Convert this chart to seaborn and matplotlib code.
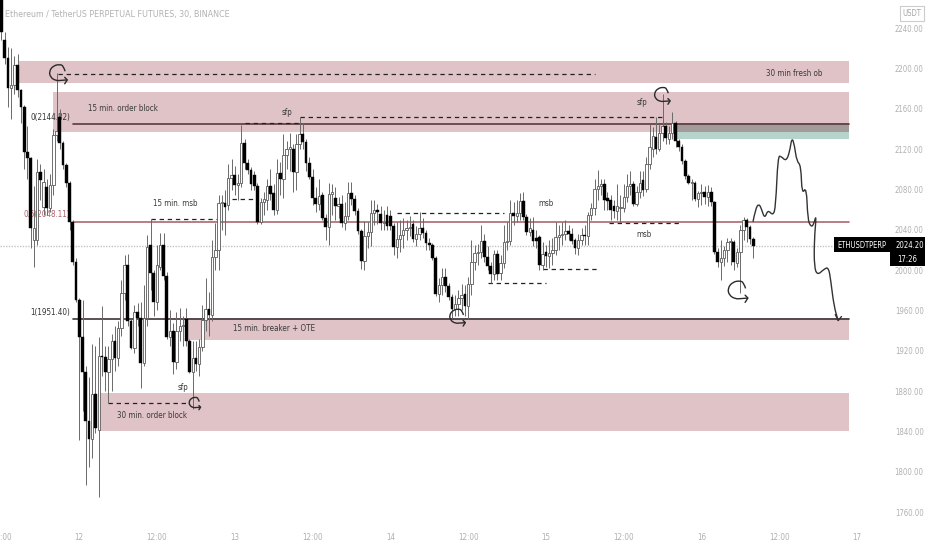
# Ethereum 30 min chart with hand drawn zones and projection
import numpy as np
import pandas as pd
import matplotlib
matplotlib.use("Agg")
import matplotlib.pyplot as plt
from matplotlib.patches import Rectangle, PathPatch
from matplotlib.path import Path
import seaborn as sns

# candles, one per 30 minutes
opens = [
    2273,2228,2210,2181,2184,2204,2179,2162,2117,2111,
    2030,2030,2097,2063,2082,2062,2084,2134,2152,2126,
    2104,2086,2048,2008,1970,1934,1899,1850,1833,1877,
    1841,1915,1914,1899,1912,1930,1913,1943,1977,2005,
    1950,1923,1958,1953,1908,1953,2025,1997,1968,2003,
    2025,1994,1934,1940,1909,1940,1945,1952,1930,1899,
    1913,1907,1924,1951,1961,1956,2013,2020,2067,2067,
    2065,2091,2094,2084,2086,2126,2106,2099,2094,2083,
    2048,2068,2070,2083,2077,2060,2096,2090,2114,2120,
    2120,2097,2125,2135,2127,2106,2092,2072,2066,2075,
    2052,2043,2076,2072,2064,2066,2047,2054,2077,2071,
    2059,2039,2009,2034,2038,2057,2060,2056,2047,2055,
    2054,2044,2023,2031,2035,2040,2042,2046,2031,2036,
    2042,2037,2027,2025,2012,1976,1985,1993,1984,1973,
    1961,1966,1972,1976,1964,1986,2008,2017,2018,2029,
    2013,2004,1996,2016,1997,2007,2028,2029,2057,2054,
    2057,2069,2053,2038,2040,2032,2033,2005,2018,2014,
    2017,2020,2033,2035,2036,2039,2036,2030,2022,2030,
    2035,2034,2055,2062,2081,2083,2085,2072,2070,2064,
    2059,2062,2062,2073,2083,2085,2066,2078,2089,2081,
    2105,2120,2132,2120,2136,2143,2130,2136,2146,2128,
    2122,2108,2093,2086,2086,2071,2077,2078,2073,2078,
    2068,2018,2008,2012,2020,2028,2028,2007,2018,2040,
    2050,2043,2031]
closes = [
    2236,2210,2181,2184,2204,2179,2162,2117,2111,2042,
    2042,2097,2089,2087,2062,2084,2134,2138,2126,2104,
    2086,2048,2008,1970,1934,1899,1850,1833,1877,1843,
    1915,1914,1899,1912,1930,1913,1943,1977,2005,1950,
    1923,1958,1953,1908,1953,2023,1997,1968,2005,2025,
    1994,1934,1940,1909,1940,1945,1946,1930,1899,1913,
    1907,1924,1951,1961,1956,2013,2020,2067,2068,2063,
    2091,2094,2084,2086,2126,2106,2099,2085,2083,2048,
    2068,2071,2083,2076,2060,2096,2090,2114,2120,2122,
    2097,2125,2135,2127,2106,2092,2072,2066,2074,2052,
    2043,2076,2078,2064,2066,2047,2054,2077,2071,2059,
    2039,2009,2034,2038,2057,2060,2058,2047,2048,2044,
    2044,2023,2031,2035,2040,2042,2043,2031,2036,2042,
    2037,2027,2025,2012,1976,1985,1993,1984,1973,1961,
    1966,1972,1975,1964,1986,2008,2017,2018,2029,2013,
    2004,1996,2016,1996,2007,2028,2029,2057,2054,2057,
    2069,2053,2038,2042,2029,2029,2005,2016,2014,2017,
    2020,2033,2035,2036,2039,2036,2029,2022,2030,2035,
    2034,2055,2062,2081,2083,2085,2070,2069,2060,2059,
    2064,2063,2073,2083,2085,2066,2078,2086,2080,2105,
    2122,2133,2120,2136,2143,2131,2136,2146,2128,2122,
    2108,2093,2086,2087,2071,2077,2078,2073,2078,2068,
    2018,2008,2012,2020,2028,2029,2008,2018,2040,2050,
    2043,2031,2024.2]
highs = [
    2290,2236,2221,2220,2212,2214,2180,2164,2143,2112,
    2083,2110,2105,2100,2090,2095,2140,2196,2160,2128,
    2106,2088,2050,2012,1972,1970,1905,1894,1927,1925,
    1934,1964,1925,1925,1937,1945,1950,1990,2015,2016,
    1952,1965,1967,1968,1985,2035,2051,2000,2025,2037,
    2037,1998,1960,1948,1958,1962,1955,1962,1932,1930,
    1930,1932,1965,1992,1978,2030,2047,2075,2075,2080,
    2105,2110,2103,2095,2144,2130,2110,2102,2098,2086,
    2072,2078,2090,2100,2085,2110,2107,2135,2128,2136,
    2125,2135,2152,2146,2130,2112,2100,2082,2090,2078,
    2056,2086,2085,2082,2073,2075,2068,2087,2087,2075,
    2062,2041,2049,2048,2070,2070,2066,2064,2060,2064,
    2060,2047,2048,2050,2052,2050,2054,2050,2044,2058,
    2052,2040,2032,2027,2014,1992,2002,2002,1987,1976,
    1975,1980,1986,1985,1993,2030,2025,2026,2045,2036,
    2024,2008,2020,2020,2015,2045,2048,2070,2068,2070,
    2077,2078,2056,2052,2053,2040,2035,2028,2025,2030,
    2032,2048,2045,2048,2050,2045,2042,2032,2036,2042,
    2045,2058,2067,2090,2099,2090,2090,2078,2075,2070,
    2085,2075,2085,2095,2098,2088,2083,2098,2098,2112,
    2145,2142,2152,2145,2175,2147,2143,2157,2148,2130,
    2125,2110,2095,2090,2088,2079,2085,2083,2084,2082,
    2069,2022,2030,2024,2032,2032,2030,2022,2045,2053,
    2052,2045,2033]
lows = [
    2228,2205,2162,2150,2175,2172,2146,2100,2090,2022,
    2003,2025,2070,2055,2055,2058,2075,2128,2120,2100,
    2082,2040,2005,1968,1832,1860,1787,1805,1814,1838,
    1775,1895,1880,1868,1880,1900,1905,1935,1970,1945,
    1922,1918,1945,1883,1905,1945,1980,1955,1960,2000,
    1990,1932,1925,1897,1902,1930,1925,1925,1898,1862,
    1900,1895,1920,1940,1935,1950,2000,2000,2040,2035,
    2060,2080,2075,2070,2082,2100,2095,2080,2080,2046,
    2046,2055,2060,2070,2055,2056,2075,2072,2100,2098,
    2078,2080,2120,2120,2098,2090,2065,2058,2060,2050,
    2030,2025,2055,2050,2052,2043,2040,2050,2065,2055,
    2036,2001,2000,2022,2024,2045,2046,2040,2040,2040,
    2040,2015,2012,2018,2022,2030,2034,2028,2024,2030,
    2032,2020,2020,2010,1974,1968,1975,1978,1970,1953,
    1955,1955,1960,1955,1952,1975,2000,2005,2012,2008,
    2000,1987,1990,1990,1990,2002,2020,2025,2045,2048,
    2050,2050,2035,2034,2024,2022,2000,2000,2003,2002,
    2005,2015,2020,2025,2030,2030,2026,2016,2015,2025,
    2025,2025,2050,2055,2070,2075,2060,2060,2050,2052,
    2050,2048,2058,2068,2075,2064,2064,2072,2074,2078,
    2100,2112,2115,2118,2128,2125,2125,2130,2122,2118,
    2105,2090,2085,2070,2069,2063,2065,2066,2064,2064,
    2016,2003,1990,2004,2008,2005,2000,2003,1977,2030,
    2028,2026,2012]

# zones: first candle, top price, bottom price
zone_start = [5.5, 16, 57, 30]
zone_top = [2207.5, 2177, 1953, 1878]
zone_bottom = [2185.5, 2137, 1931, 1840]

# fib levels
fib_prices = [2144.82, 2048.11, 1951.40]
fib_labels = ["0(2144.82)", "0.5(2048.11)", "1(1951.40)"]
fib_colors = ["#5b3a3e", "#a9686f", "#3d3335"]
fib_text_colors = ["#333333", "#b3606b", "#333333"]
last_price = 2024.20

# dashed levels: price, first candle, last candle
dash_price = [2195, 2146, 2152, 2051, 2071, 1868, 2057, 2001, 1987, 2047]
dash_from = [17.3, 75, 92, 46.2, 71, 33, 122, 167, 150, 187.6]
dash_to = [183, 92, 204, 67, 79, 58, 155, 184, 168, 209.6]

# hand drawn projection
path_x = [231.9,232.7,233.7,234.5,235.5,236.5,238.1,238.9,239.6,240.6,242.1,243.2,243.9,244.7,245.4,
          246.7,247.0,248.4,248.8,249.8,250.6,251.5,250.8,250.8,251.8,253.8,255.2,255.9,256.9,258.2]
path_p = [2048,2061,2066,2061,2051,2060,2054,2063,2113,2113,2108,2117,2132,2124,2108,
          2104,2075,2083,2050,2043,2045,2056,2030,2003,1995,2001,2003,1990,1964,1950]

# hand drawn loops: candle, price, radius in pixels
loop_x = [17.3, 59.5, 203.7, 140.5, 227]
loop_p = [2195.6, 1868.5, 2174, 1954, 1980]
loop_r = [8.5, 5.5, 7.5, 7.5, 9.5]
loop_ux = [0.9,0.7,0.3,-0.5,-1,-0.85,-0.2,0.5,1.15]
loop_uy = [0.2,0.8,1,0.85,0.2,-0.5,-0.9,-0.85,-0.8]
head_ux = [0.85,1.15,0.85]
head_uy = [-0.5,-0.8,-1.25]

# notes: text, candle, price
note_text = ["15 min. order block", "30 min fresh ob", "sfp", "sfp", "15 min. msb", "msb", "msb",
             "15 min. breaker + OTE", "sfp", "30 min. order block"]
note_x = [26.8, 236, 88, 197.7, 46.6, 168, 198.3, 71.4, 56, 35.6]
note_p = [2160, 2195, 2156, 2166, 2066, 2066, 2035, 1942, 1884, 1856]

x_tick_pos = [0, 24, 48, 72, 96, 120, 144, 168, 192, 216, 240, 264]
x_tick_labels = ["12:00", "12", "12:00", "13", "12:00", "14", "12:00", "15", "12:00", "16", "12:00", "17"]
y_ticks = [2240, 2200, 2160, 2120, 2080, 2040, 2000, 1960, 1920, 1880, 1840, 1800, 1760]

sns.set_theme(style="white")
plt.rcParams["font.family"] = ["DejaVu Sans"]
plt.rcParams["font.stretch"] = "condensed"


def smooth(ax, xs, ys, **kw):
    # quadratic curve through the midpoints of the drawn points
    verts = [(xs[0], ys[0])]
    codes = [Path.MOVETO]
    for k in range(1, len(xs) - 1):
        verts += [(xs[k], ys[k]), ((xs[k] + xs[k + 1]) / 2, (ys[k] + ys[k + 1]) / 2)]
        codes += [Path.CURVE3, Path.CURVE3]
    verts.append((xs[-1], ys[-1]))
    codes.append(Path.LINETO)
    ax.add_patch(PathPatch(Path(verts, codes), fill=False, **kw))


df = pd.DataFrame({"open": opens, "high": highs, "low": lows, "close": closes})
df["i"] = df.index
up = df[df.close >= df.open]
down = df[df.close < df.open]

fig = plt.figure(figsize=(9.32, 5.5), dpi=100)
ax = fig.add_axes([0, 1 - 525 / 550, 857 / 932, 525 / 550])
ax.set_xlim(-0.46, 261.6)
ax.set_ylim(2268 - 0.992 * 525, 2268)

pink = "#dfc3c7"
for s, t, b in zip(zone_start, zone_top, zone_bottom):
    ax.fill_between([s, 261.6], t, b, color=pink, lw=0, zorder=1)
ax.fill_between([207.8, 261.6], 2146, 2137, color="#a39b9b", lw=0, zorder=1.1)
ax.fill_between([207.8, 261.6], 2137, 2130, color="#b6d3cc", lw=0, zorder=1.1)

ax.axhline(last_price, color="#c4c4c4", lw=1, ls=(0, (1, 1)), zorder=1.5)
for p, lab, c, tc in zip(fib_prices, fib_labels, fib_colors, fib_text_colors):
    ax.plot([22, 261.6], [p, p], color=c, lw=1.2, zorder=2)
    ax.text(21.2, p + 7, lab, ha="right", va="center", fontsize=5.8, color=tc, zorder=2)

levels = pd.DataFrame({"p": dash_price, "a": dash_from, "b": dash_to})
for row in levels.itertuples():
    sns.lineplot(x=[row.a, row.b], y=[row.p, row.p], color="#222222", lw=0.9, linestyle=(0, (3.5, 3)),
                 estimator=None, ax=ax, zorder=2)

for t, x, p in zip(note_text, note_x, note_p):
    ax.text(x, p, t, ha="center" if len(t) < 5 else "left", va="center", fontsize=5.8, color="#3a3a3a", zorder=2)

# candles
ax.vlines(df.i, df.low, df.high, color="#6a6a6a", lw=0.7, zorder=3)
ax.bar(up.i, up.close - up.open, bottom=up.open, width=0.72, color="white", edgecolor="#5a5a5a", lw=0.6, zorder=4)
ax.bar(down.i, down.close - down.open, bottom=down.open, width=0.85, color="black", edgecolor="black", lw=0.3, zorder=4)

# drawings
smooth(ax, path_x, path_p, edgecolor="#333333", lw=1, zorder=5)
ax.plot([257.3, 258.2, 259.2], [1956, 1950, 1954], color="#333333", lw=1, zorder=5)
for x, p, r in zip(loop_x, loop_p, loop_r):
    lx = x + r * np.array(loop_ux) / 3.27
    ly = p + r * np.array(loop_uy) * 1.008
    smooth(ax, lx, ly, edgecolor="#2a2a2a", lw=1, zorder=5)
    ax.plot(x + r * np.array(head_ux) / 3.27, p + r * np.array(head_uy) * 1.008, color="#2a2a2a", lw=1, zorder=5)

ax.set_xticks(x_tick_pos, x_tick_labels)
ax.yaxis.tick_right()
ax.set_yticks(y_ticks, [f"{v:.2f}" for v in y_ticks])
ax.tick_params(axis="x", length=0, pad=6, labelsize=5.8, labelcolor="#b0b0b0")
ax.tick_params(axis="y", length=0, pad=48, labelsize=5.6, labelcolor="#b0b0b0")
ax.set_xlabel("")
ax.set_ylabel("")
for lab in ax.get_yticklabels():
    lab.set_ha("right")
sns.despine(ax=ax, left=True, bottom=True, right=True, top=True)
ax.patch.set_alpha(0)

fig.text(5 / 932, 1 - 15 / 550, "Ethereum / TetherUS PERPETUAL FUTURES, 30, BINANCE",
         fontsize=6.4, color="#b2b2b2", va="center", ha="left")

# last price label
fig.add_artist(Rectangle((834 / 932, 1 - 252 / 550), 91 / 932, 15 / 550, transform=fig.transFigure, color="black", lw=0))
fig.add_artist(Rectangle((890 / 932, 1 - 266 / 550), 35 / 932, 14 / 550, transform=fig.transFigure, color="black", lw=0))
fig.text(837 / 932, 1 - 245 / 550, "ETHUSDTPERP", fontsize=5.5, color="white", va="center", ha="left", zorder=10)
fig.text(924 / 932, 1 - 245 / 550, "2024.20", fontsize=5.6, color="white", va="center", ha="right", zorder=10)
fig.text(897 / 932, 1 - 259 / 550, "17:26", fontsize=5.6, color="white", va="center", ha="left", zorder=10)

# currency button
fig.add_artist(Rectangle((900 / 932, 1 - 21 / 550), 24 / 932, 15 / 550, transform=fig.transFigure,
                         facecolor="white", edgecolor="#cccccc", lw=0.8))
fig.text(912 / 932, 1 - 13.5 / 550, "USDT", fontsize=5.6, color="#a8a8a8", va="center", ha="center", zorder=10)

fig.savefig("out.png", dpi=100)
